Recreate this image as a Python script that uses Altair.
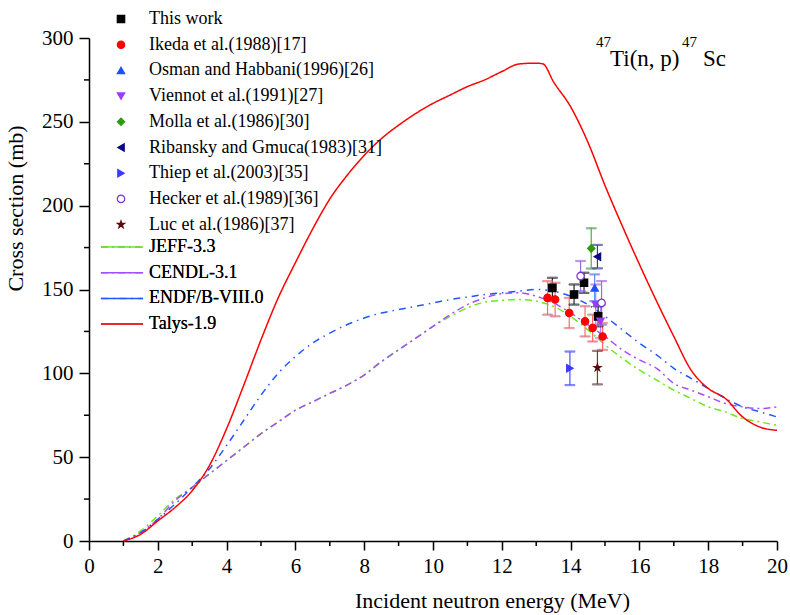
import altair as alt
import pandas as pd

W, H = 688, 503
FONT = "Liberation Serif, Times New Roman, serif"

# ---- evaluated / calculated excitation functions ----
talys_e = [1.0, 1.5, 2.0, 2.5, 3.0, 3.5, 4.0, 4.5, 5.0, 5.5, 6.0, 6.5, 7.0, 7.5, 8.0, 8.5,
           9.0, 9.5, 10.0, 10.5, 11.0, 11.5, 12.0, 12.5, 13.0, 13.2, 13.5, 14.0, 14.5,
           15.0, 15.5, 16.0, 16.5, 17.0, 17.5, 18.0, 18.5, 19.0, 19.5, 20.0]
talys_s = [0, 4, 12, 20, 30, 45, 67, 93, 120, 145, 166, 186, 204, 218, 230, 240,
           248, 255, 261, 266, 271, 275, 280, 284.5, 285, 284.5, 274, 259, 238,
           212, 188, 165, 143, 122, 102, 91, 85, 74, 68, 66]

eval_e = [1.0, 1.5, 2.0, 2.5, 3.0, 3.5, 4.0, 4.5, 5.0, 5.5, 6.0, 6.5, 7.0, 7.5, 8.0, 8.5,
          9.0, 9.5, 10.0, 10.5, 11.0, 11.5, 12.0, 12.5, 13.0, 13.5, 14.0, 14.5, 15.0,
          15.5, 16.0, 16.5, 17.0, 17.5, 18.0, 18.5, 19.0, 19.5, 20.0]
jeff_s = [0, 6, 15, 25, 32, 40, 48, 56, 64, 71, 78, 83, 88, 93, 99, 107,
          114, 121, 128, 134, 139, 142.5, 143.5, 144, 143, 140, 134, 126, 117,
          109, 102, 96, 90, 85, 80, 77, 73, 71, 69]
cendl_s = [0, 5, 13, 24, 32, 40, 48, 56, 64, 71, 78, 83, 88, 93, 99, 107,
           114, 121, 128, 135, 141, 145, 147.5, 148, 146, 142, 136, 129, 122,
           114, 108, 103, 94, 90, 86, 82, 80, 79, 80]
endf_s = [0, 5, 13, 22, 32, 43, 57, 72, 87, 100, 110, 118, 124, 129, 133, 136,
          138, 140, 142, 144, 145.5, 147, 148, 149, 150, 149, 146, 141, 134,
          126, 118, 111, 103, 97, 91, 85, 80, 77, 74]

# ---- measured data: source, energy (MeV), cross section (mb), uncertainty (mb) ----
sources = ["This work", "Ikeda et al.(1988)[17]", "Osman and Habbani(1996)[26]",
           "Viennot et al.(1991)[27]", "Molla et al.(1986)[30]",
           "Ribansky and Gmuca(1983)[31]", "Thiep et al.(2003)[35]",
           "Hecker et al.(1989)[36]", "Luc et al.(1986)[37]"]
exp_src = [0, 0, 0, 0,
           1, 1, 1, 1, 1, 1,
           2,
           3, 3,
           4,
           5,
           6,
           7, 7,
           8]
exp_e = [13.47, 14.10, 14.39, 14.80,
         13.33, 13.55, 13.96, 14.42, 14.64, 14.93,
         14.70,
         14.73, 14.87,
         14.60,
         14.78,
         13.98,
         14.29, 14.90,
         14.78]
exp_s = [151, 147, 154, 134,
         145, 144, 136, 131, 127, 122,
         151,
         141, 131,
         174.5,
         169.6,
         103,
         158, 142,
         103.4]
exp_err = [6, 6, 6, 6,
           10, 10, 9, 9, 8, 8,
           8,
           12, 10,
           12,
           7,
           10,
           9, 13,
           10]

models = ["JEFF-3.3", "CENDL-3.1", "ENDF/B-VIII.0", "Talys-1.9"]

# ---- tables ----
rows = []
for name, ys in zip(models[:3], [jeff_s, cendl_s, endf_s]):
    rows += [{"model": name, "e": e, "s": s} for e, s in zip(eval_e, ys)]
rows += [{"model": "Talys-1.9", "e": e, "s": s} for e, s in zip(talys_e, talys_s)]
lines_df = pd.DataFrame(rows)

exp_df = pd.DataFrame({
    "source": [sources[i] for i in exp_src],
    "e": exp_e, "s": exp_s,
    "lo": [s - d for s, d in zip(exp_s, exp_err)],
    "hi": [s + d for s, d in zip(exp_s, exp_err)],
})

# ---- styles ----
pt_stroke = ["#000000", "#ff0000", "#1f4fff", "#9b3dff", "#2e9a0e",
             "#0a0a80", "#3a3aff", "#7a33cc", "#5a0a0a"]
pt_fill = ["#000000", "#ff0000", "#1f4fff", "#9b3dff", "#2e9a0e",
           "#0a0a80", "#3a3aff", "#ffffff", "#5a0a0a"]
pt_shape = ["square", "circle", "triangle-up", "triangle-down", "diamond",
            "triangle-left", "triangle-right", "circle",
            "M0,-1L0.2245,-0.309L0.951,-0.309L0.3633,0.118L0.5878,0.809L0,0.382L-0.5878,0.809L-0.3633,0.118L-0.951,-0.309L-0.2245,-0.309Z"]
bar_stroke = ["#222222", "#ff6a6a", "#5f85ff", "#b27fff", "#4fae3a",
              "#3a3a9c", "#4f4fff", "#9a6be0", "#6e3a3a"]

line_colors = ["#6fe81c", "#a64dff", "#2157ff", "#ff0000"]
line_dash = [[7, 4, 2, 4], [7, 4, 2, 4], [7, 5, 1.5, 5], [1, 0]]

x_enc = alt.X("e:Q", scale=alt.Scale(domain=[0, 20], nice=False),
              axis=alt.Axis(values=list(range(0, 21, 2)), title="Incident neutron energy (MeV)",
                            titleX=403, titleY=66, titleAlign="center",
                            titleBaseline="alphabetic", labelFlush=False,
                            tickSize=9, labelPadding=5))
y_enc = alt.Y("s:Q", scale=alt.Scale(domain=[0, 300], nice=False),
              axis=alt.Axis(values=list(range(0, 301, 50)), title="Cross section (mb)",
                            titlePadding=14, titleY=170, labelFlush=False,
                            tickSize=10, labelPadding=6))

legend_pts = alt.Legend(title=None, orient="none", legendX=23, legendY=-28,
                        symbolSize=55, symbolStrokeWidth=1.2, labelFont=FONT,
                        labelFontSize=18, labelColor="black", labelLimit=500,
                        rowPadding=7.7, labelOffset=19, padding=0)
legend_lines = alt.Legend(title=None, orient="none", legendX=24, legendY=200,
                          symbolType="M-5,0H5", symbolSize=71, symbolStrokeWidth=1.5,
                          labelFont=FONT, labelFontSize=18, labelColor="black",
                          labelLimit=500, rowPadding=7.7, labelOffset=18, padding=0)

lines = alt.Chart(lines_df).mark_line(strokeWidth=1.5, interpolate="monotone").encode(
    x=x_enc, y=y_enc,
    stroke=alt.Stroke("model:N", scale=alt.Scale(domain=models, range=line_colors),
                      legend=legend_lines),
    strokeDash=alt.StrokeDash("model:N", scale=alt.Scale(domain=models, range=line_dash),
                              legend=legend_lines),
    order=alt.Order("e:Q"),
)

bar_scale = alt.Scale(domain=sources, range=bar_stroke)
bars = alt.Chart(exp_df).mark_rule(strokeWidth=1.2).encode(
    x="e:Q", y="lo:Q", y2="hi:Q",
    stroke=alt.Stroke("source:N", scale=bar_scale, legend=None),
)
caps_lo = alt.Chart(exp_df).mark_tick(thickness=1.2, size=10, orient="horizontal").encode(
    x="e:Q", y="lo:Q",
    stroke=alt.Stroke("source:N", scale=bar_scale, legend=None),
)
caps_hi = alt.Chart(exp_df).mark_tick(thickness=1.2, size=10, orient="horizontal").encode(
    x="e:Q", y="hi:Q",
    stroke=alt.Stroke("source:N", scale=bar_scale, legend=None),
)
errs = alt.layer(bars, caps_lo, caps_hi)

points = alt.Chart(exp_df).mark_point(filled=False, size=55, strokeWidth=1.2,
                                      opacity=1).encode(
    x="e:Q", y="s:Q",
    color=alt.Color("source:N", scale=alt.Scale(domain=sources, range=pt_stroke),
                    legend=legend_pts),
    fill=alt.Fill("source:N", scale=alt.Scale(domain=sources, range=pt_fill),
                  legend=legend_pts),
    shape=alt.Shape("source:N", scale=alt.Scale(domain=sources, range=pt_shape),
                    legend=legend_pts),
)

# minor ticks at the odd energies and at the 25 mb midpoints
minor_x = alt.Chart(pd.DataFrame({"e": list(range(1, 20, 2))})).mark_rule(
    color="black", strokeWidth=1.5).encode(x="e:Q", y=alt.value(H), y2=alt.value(H + 5))
minor_y = alt.Chart(pd.DataFrame({"s": list(range(25, 300, 50))})).mark_rule(
    color="black", strokeWidth=1.5).encode(y="s:Q", x=alt.value(0), x2=alt.value(-5))

# reaction label with superscripted mass numbers
def label(txt, px, py, size):
    return alt.Chart(pd.DataFrame({"t": [txt]})).mark_text(
        font=FONT, fontSize=size, align="left", baseline="alphabetic", color="black"
    ).encode(text="t:N", x=alt.value(px), y=alt.value(py))

reaction = alt.layer(
    label("47", 507, 9, 15),
    label("Ti(n, p)", 521, 28, 23),
    label("47", 593, 9, 15),
    label("Sc", 614, 28, 23),
)

chart = alt.layer(lines, errs, points, minor_x, minor_y, reaction).resolve_scale(
    stroke="independent"
).properties(
    width=W, height=H,
    autosize=alt.AutoSizeParams(type="none"),
    padding={"left": 89, "top": 38, "right": 13, "bottom": 74},
).configure_view(stroke=None).configure_axis(
    grid=False, domainColor="black", domainWidth=1.5, tickColor="black", tickWidth=1.5,
    labelFont=FONT, labelFontSize=21, labelColor="black",
    titleFont=FONT, titleFontSize=22, titleFontWeight="normal", titleColor="black",
)

chart.save("out.html", embed_options={"renderer": "svg", "actions": False})
